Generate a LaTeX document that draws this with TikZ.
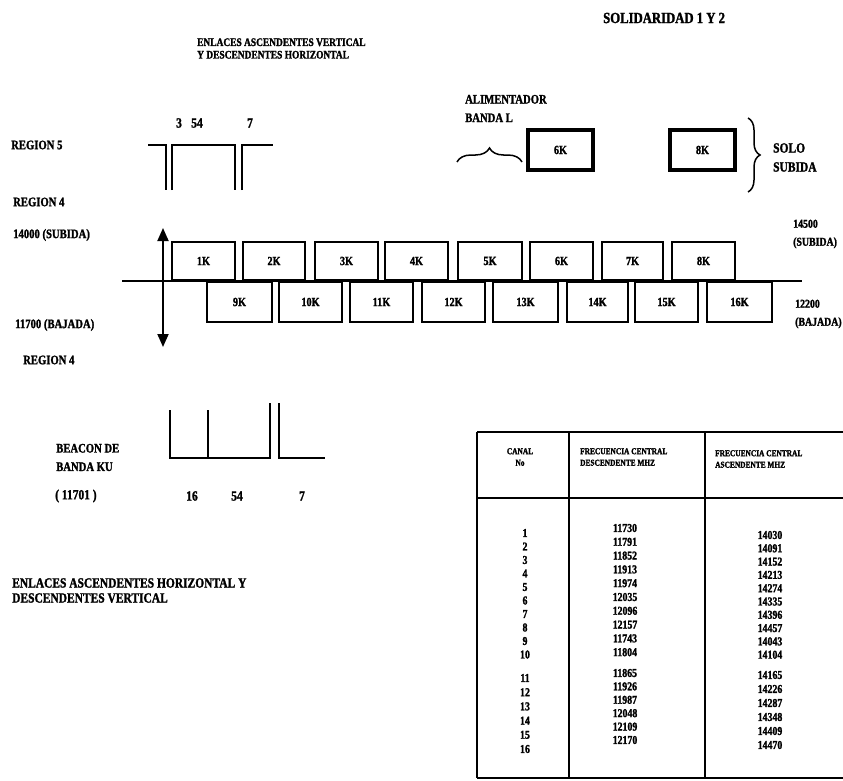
\documentclass[tikz,border=0pt]{standalone}
\usepackage{fontspec}
\setmainfont{Liberation Serif}[FakeStretch=0.82, BoldFeatures={FakeBold=1.6}]
\usetikzlibrary{arrows.meta,decorations.pathreplacing}
\newcommand{\fsz}[2]{\fontsize{#1}{#2}\selectfont\bfseries}
\begin{document}
\begin{tikzpicture}[x=1pt,y=-1pt,
  lbl/.style={font=\fsz{13}{14}, inner sep=0pt, anchor=west, align=left},
  lblw/.style={font=\fsz{13}{18.5}, inner sep=0pt, anchor=west, align=left},
  num/.style={font=\fsz{14}{15}, inner sep=0pt},
  kbox/.style={draw, fill=white, line width=2.8pt, inner sep=0pt, font=\fsz{12.5}{13}},
  abox/.style={draw, fill=white, line width=3.2pt, inner sep=0pt, minimum width=65pt, minimum height=40pt, font=\fsz{12.5}{13}},
  trace/.style={line width=2.2pt},
  tline/.style={line width=2pt},
  thead/.style={font=\fsz{9}{11.5}, inner sep=0pt, align=left},
  tnum/.style={font=\fsz{12}{12}, inner sep=0pt},
  brc/.style={decorate, line width=1.5pt}
]
\useasboundingbox (0,0) rectangle (843,781);

% titles
\node[lbl, font=\fsz{11.5}{12.5}] (t1) at (197,48.5) {ENLACES ASCENDENTES VERTICAL\\Y DESCENDENTES HORIZONTAL};
\node[lbl, font=\fsz{15.5}{16}] (t2) at (603,18) {SOLIDARIDAD 1 Y 2};

% left labels
\node[lbl] (r5) at (11,145) {REGION 5};
\node[lbl] (r4a) at (13,202) {REGION 4};
\node[lbl] (f1) at (13,235) {14000 (SUBIDA)};
\node[lbl] (f2) at (15,325) {11700 (BAJADA)};
\node[lbl] (r4b) at (23,360) {REGION 4};

% region 5 traces
\node[num] (n3) at (179,123) {3};
\node[num] (n54) at (197,123) {54};
\node[num] (n7) at (250,123) {7};
\draw[trace] (148,145) -- (166,145) -- (166,190);
\draw[trace] (172,190) -- (172,145) -- (235,145) -- (235,190);
\draw[trace] (242,190) -- (242,145) -- (273,145);

% alimentador / solo subida
\node[lblw] (al) at (465,108.5) {ALIMENTADOR\\BANDA L};
\coordinate (bl1) at (457,162);
\coordinate (bl2) at (522,162);
\draw[brc, decoration={brace, amplitude=14pt}] (bl1) -- (bl2);
\node[abox] (a6) at (560.5,150) {6K};
\node[abox] (a8) at (702.5,150) {8K};
\coordinate (br1) at (748,118);
\coordinate (br2) at (748,192);
\draw[brc, decoration={brace, amplitude=12pt}] (br1) -- (br2);
\node[lblw, font=\fsz{14}{19}] (ss) at (773,157.5) {SOLO\\SUBIDA};

% axis and arrow
\coordinate (axL) at (122,281);
\coordinate (axR) at (802,281);
\coordinate (arT) at (163,228);
\coordinate (arB) at (163,347);

% upper boxes
\node[kbox, minimum width=63pt, minimum height=38pt] (k1) at (203.5,261) {1K};
\node[kbox, minimum width=62pt, minimum height=38pt] (k2) at (274,261) {2K};
\node[kbox, minimum width=63pt, minimum height=38pt] (k3) at (346.5,261) {3K};
\node[kbox, minimum width=63pt, minimum height=38pt] (k4) at (416.5,261) {4K};
\node[kbox, minimum width=64pt, minimum height=38pt] (k5) at (490,261) {5K};
\node[kbox, minimum width=63pt, minimum height=38pt] (k6) at (561.5,261) {6K};
\node[kbox, minimum width=61pt, minimum height=38pt] (k7) at (632.5,261) {7K};
\node[kbox, minimum width=63pt, minimum height=38pt] (k8) at (703.5,261) {8K};
% lower boxes
\node[kbox, minimum width=65pt, minimum height=40pt] (k9) at (239.5,302) {9K};
\node[kbox, minimum width=63pt, minimum height=40pt] (k10) at (310.5,302) {10K};
\node[kbox, minimum width=63pt, minimum height=40pt] (k11) at (381.5,302) {11K};
\node[kbox, minimum width=63pt, minimum height=40pt] (k12) at (453.5,302) {12K};
\node[kbox, minimum width=65pt, minimum height=40pt] (k13) at (525.5,302) {13K};
\node[kbox, minimum width=61pt, minimum height=40pt] (k14) at (597.5,302) {14K};
\node[kbox, minimum width=63pt, minimum height=40pt] (k15) at (666.5,302) {15K};
\node[kbox, minimum width=65pt, minimum height=40pt] (k16) at (739.5,302) {16K};

\draw[line width=2.6pt] (axL) -- (axR);
\draw[line width=1.8pt, {Triangle[width=11pt,length=13pt]}-{Triangle[width=11pt,length=13pt]}] (arT) -- (arB);

% right labels
\node[lblw, font=\fsz{12}{18}] (fr1) at (793,234) {14500\\(SUBIDA)};
\node[lblw, font=\fsz{12}{18}] (fr2) at (795,314) {12200\\(BAJADA)};

% beacon
\node[lblw] (bc) at (56,457.5) {BEACON DE\\BANDA KU};
\node[lbl, font=\fsz{14}{15}] (bf) at (55,496) {( 11701 )};
\draw[trace] (170,410) -- (170,458) -- (270,458) -- (270,403);
\draw[trace] (208,410) -- (208,458);
\draw[trace] (279,403) -- (279,458) -- (325,458);
\node[num] (b16) at (192,496) {16};
\node[num] (b54) at (237,496) {54};
\node[num] (b7) at (302,496) {7};

% bottom label
\node[lbl, font=\fsz{14}{15}] (t3) at (12,590.5) {ENLACES ASCENDENTES HORIZONTAL Y\\DESCENDENTES VERTICAL};

% table
\coordinate (tTL) at (477,432);
\coordinate (tTR) at (843,432);
\coordinate (tHL) at (477,498);
\coordinate (tHR) at (843,498);
\coordinate (tBL) at (477,778);
\coordinate (tBR) at (843,778);
\coordinate (c1T) at (569,432);
\coordinate (c1B) at (569,778);
\coordinate (c2T) at (705,432);
\coordinate (c2B) at (705,778);
\draw[tline] (tTL) -- (tTR);
\draw[tline] (tHL) -- (tHR);
\draw[tline] (tBL) -- (tBR);
\draw[tline] (tTL) -- (tBL);
\draw[tline] (c1T) -- (c1B);
\draw[tline] (c2T) -- (c2B);
\node[thead, align=center] (h1) at (520,457) {CANAL\\No};
\node[thead, anchor=west] (h2) at (580,457) {FRECUENCIA CENTRAL\\DESCENDENTE  MHZ};
\node[thead, anchor=west] (h3) at (715,459) {FRECUENCIA CENTRAL\\ASCENDENTE  MHZ};

\foreach \c/\d/\a [count=\i] in {1/11730/14030, 2/11791/14091, 3/11852/14152, 4/11913/14213,
  5/11974/14274, 6/12035/14335, 7/12096/14396, 8/12157/14457, 9/11743/14043, 10/11804/14104,
  11/11865/14165, 12/11926/14226, 13/11987/14287, 14/12048/14348, 15/12109/14409, 16/12170/14470}{
  \pgfmathsetmacro\yc{\i<11 ? 533+13.5*(\i-1) : 678+14.2*(\i-11)}
  \pgfmathsetmacro\yd{\i<11 ? 528+13.8*(\i-1) : 673+13.4*(\i-11)}
  \pgfmathsetmacro\ya{\i<11 ? 535+13.3*(\i-1) : 675+14*(\i-11)}
  \node[tnum] (ch\i) at (525,\yc) {\c};
  \node[tnum] (dn\i) at (625,\yd) {\d};
  \node[tnum] (up\i) at (770,\ya) {\a};
}
\end{tikzpicture}
\end{document}
